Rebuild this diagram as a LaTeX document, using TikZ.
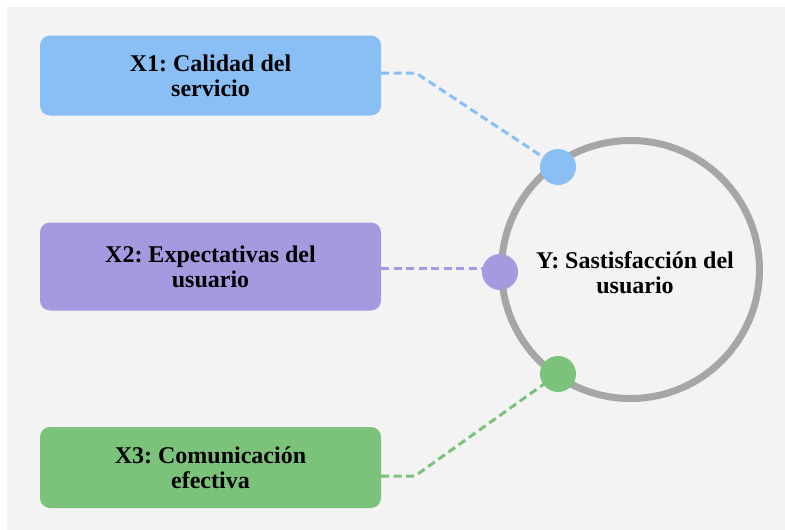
\documentclass[tikz,border=0pt]{standalone}
\usepackage{fontspec}
\setmainfont{Liberation Serif}
\frenchspacing
\definecolor{bgc}{HTML}{F3F3F3}
\definecolor{bluec}{HTML}{89BFF4}
\definecolor{purc}{HTML}{A59AE0}
\definecolor{grnc}{HTML}{7BC27B}
\definecolor{ringc}{HTML}{A6A6A6}
\tikzset{
  varbox/.style={rounded corners=10pt, minimum width=341pt, minimum height=81pt, inner sep=0pt,
    align=center, font=\fontsize{24}{25}\selectfont\bfseries, text=black},
  dot/.style={circle, minimum size=36pt, inner sep=0pt},
  conn/.style={line width=3pt, dash pattern=on 8pt off 4.5pt},
}
\begin{document}
\begin{tikzpicture}[x=1pt,y=-1pt]
\useasboundingbox (0,0) rectangle (785,530);
\fill[bgc] (7,7) rectangle (785,530);
% boxes
\node[varbox, fill=bluec, minimum height=80pt] (x1) at (210.5,75.5) {X1: Calidad del\\servicio};
\node[varbox, fill=purc, minimum height=88pt] (x2) at (210.5,266.5) {X2: Expectativas del\\usuario};
\node[varbox, fill=grnc, minimum height=81pt] (x3) at (210.5,467.5) {X3: Comunicación\\efectiva};
% ring
\node[circle, draw=ringc, line width=7pt, minimum size=258pt, inner sep=0pt] (y) at (630.5,269.5) {};
\node[align=center, font=\fontsize{24}{25}\selectfont\bfseries, inner sep=0pt] (ylab) at (635,273) {Y: Sastisfacción del\\usuario};
% dots (positions)
\coordinate (p1) at (558,167);
\coordinate (p2) at (500,272);
\coordinate (p3) at (558,374);
% connectors
\coordinate (k1) at (416,73);
\coordinate (k3) at (415,476);
\draw[conn, bluec] ([yshift=2.5pt]x1.east) -- (k1) -- (p1);
\draw[conn, purc] ([yshift=-1.5pt]x2.east) -- ([yshift=-1.5pt]x2.east -| p2);
\draw[conn, grnc] ([yshift=-8.5pt]x3.east) -- (k3) -- (p3);
\node[dot, fill=bluec] (d1) at (p1) {};
\node[dot, fill=purc] (d2) at (p2) {};
\node[dot, fill=grnc] (d3) at (p3) {};
\end{tikzpicture}
\end{document}
